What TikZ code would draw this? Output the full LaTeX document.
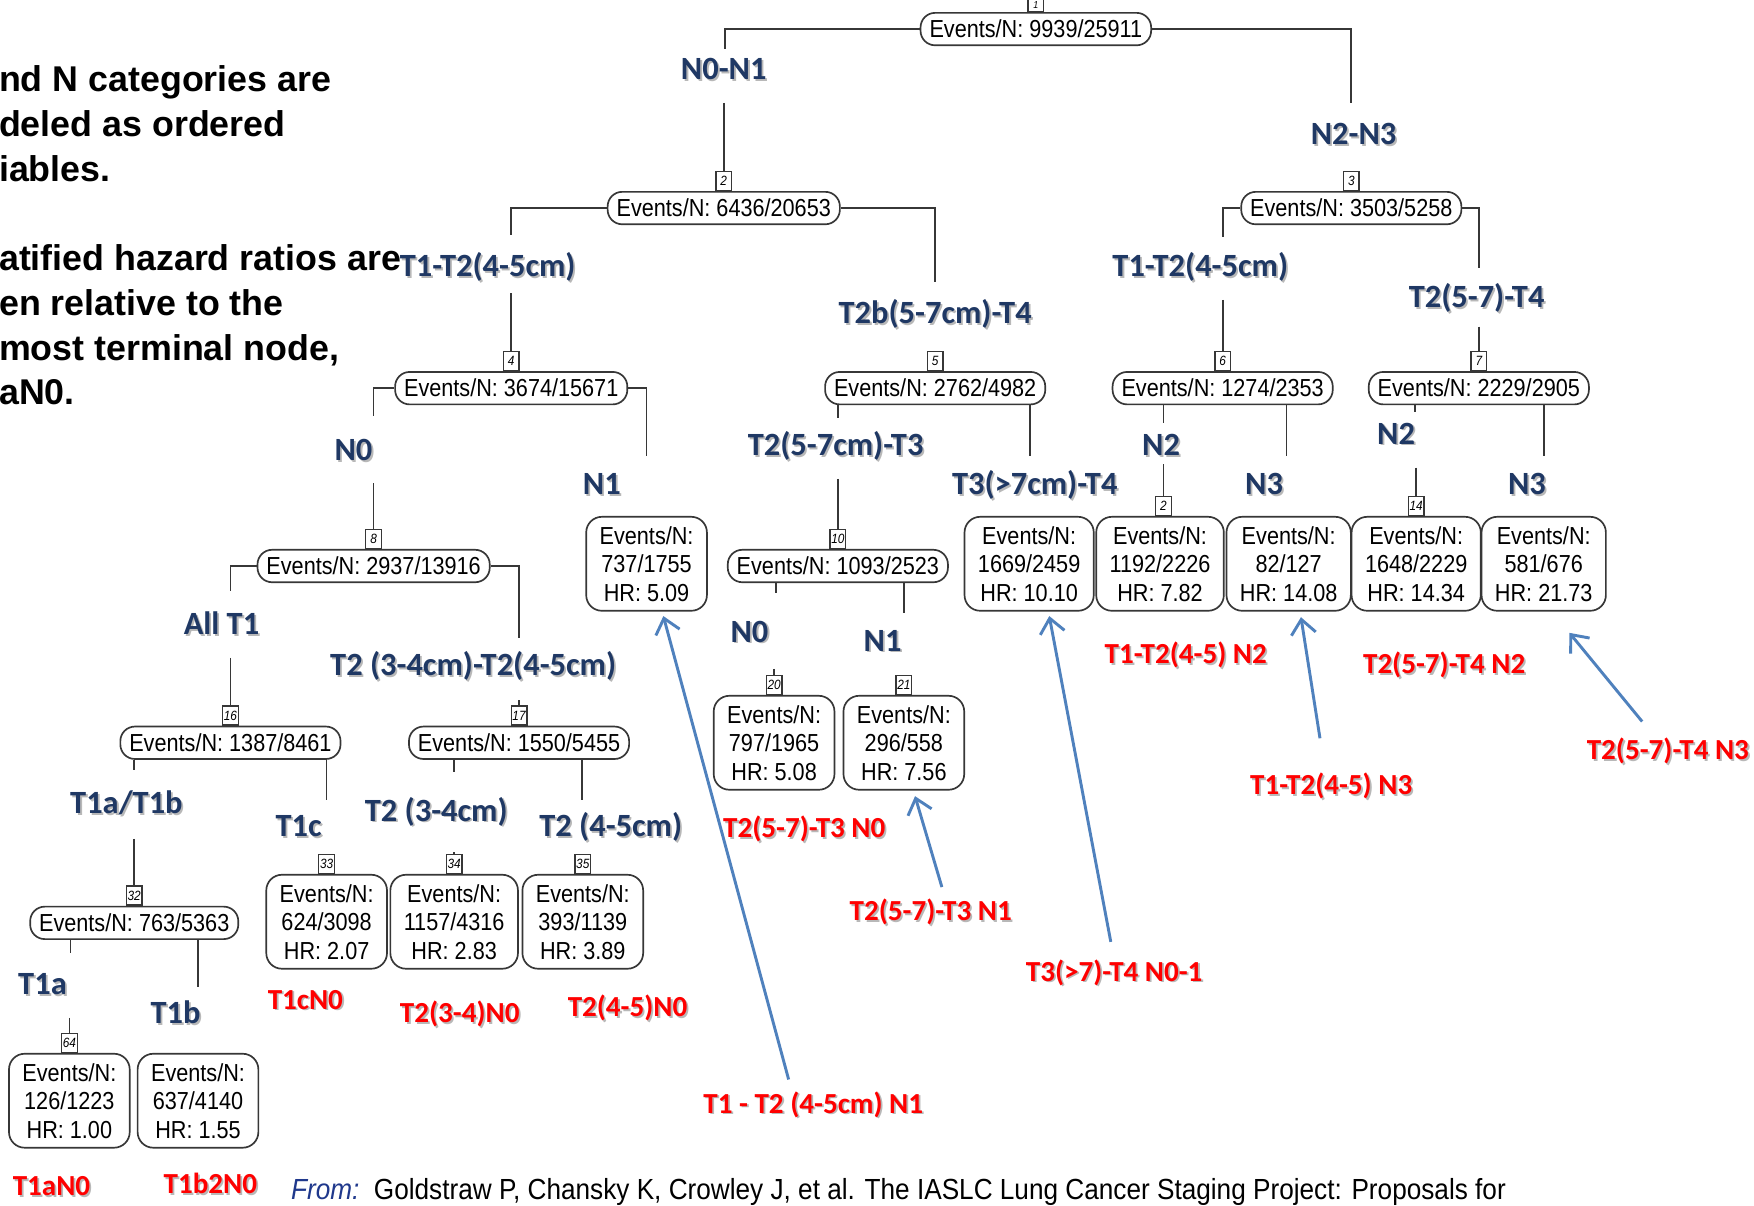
\documentclass[tikz,border=0pt]{standalone}
\usepackage{fontspec}
\setmainfont{Liberation Sans}
\newfontfamily\calfont{Carlito}
\newfontfamily\narrowfont[FakeStretch=0.88]{Liberation Sans}
\newfontfamily\citefont[FakeStretch=0.9]{Liberation Sans}
\usetikzlibrary{arrows.meta,calc}
\definecolor{navy}{RGB}{31,56,100}
\definecolor{citeblue}{RGB}{31,56,140}
\definecolor{linegray}{RGB}{55,55,55}
\definecolor{arrowblue}{RGB}{79,129,189}
\newcommand\shd[1]{\leavevmode\rlap{\kern1.6pt\raisebox{-1.6pt}{\textcolor{black!28}{#1}}}#1}
\tikzset{
  conn/.style={draw=linegray, line width=1.5pt},
  oval/.style={draw=linegray, line width=1.5pt, fill=white, rounded corners=13pt,
    minimum height=29pt, inner xsep=8pt, inner ysep=0pt,
    font=\narrowfont\fontsize{22}{26}\selectfont},
  term/.style={draw=linegray, line width=1.5pt, fill=white, rounded corners=14pt,
    minimum height=84pt, inner xsep=12pt, inner ysep=0pt, align=center,
    font=\narrowfont\fontsize{22}{25.5}\selectfont},
  numbox/.style={draw=linegray, line width=1.2pt, fill=white, minimum width=14pt,
    minimum height=17pt, inner sep=0pt, anchor=south,
    font=\narrowfont\itshape\fontsize{12}{12}\selectfont},
  blab/.style={text=navy, font=\calfont\bfseries\fontsize{29}{32}\selectfont,
    inner sep=1pt, text height=20pt, text depth=6pt},
  rlab/.style={text=red, font=\calfont\bfseries\fontsize{26}{30}\selectfont,
    inner sep=1pt, text height=18pt, text depth=6pt},
  lefttxt/.style={anchor=base west, inner sep=0pt, font=\bfseries\fontsize{32}{40}\selectfont},
  arr/.style={draw=arrowblue, line width=2.6pt, -{Straight Barb[length=13pt,width=22pt]}},
}
\begin{document}
\begin{tikzpicture}[x=1pt,y=-1pt]
\useasboundingbox (0,0) rectangle (1568,1078);
\fill[white] (0,0) rectangle (1568,1078);
\clip (0,0) rectangle (1568,1078);

% left explanatory text (cut at the left edge)
\node[lefttxt] (tx1) at (-1,82) {nd N categories are};
\node[lefttxt] (tx2) at (-1,122) {deled as ordered};
\node[lefttxt] (tx3) at (-1,162) {iables.};
\node[lefttxt] (tx4) at (-1,242) {atified hazard ratios are};
\node[lefttxt] (tx5) at (-1,282) {en relative to the};
\node[lefttxt] (tx6) at (-1,322) {most terminal node,};
\node[lefttxt] (tx7) at (-1,362) {aN0.};

% internal (oval) nodes
\node[oval] (o1) at (926,26) {Events/N: 9939/25911};
\node[oval] (o2) at (647,186) {Events/N: 6436/20653};
\node[oval] (o3) at (1208,186) {Events/N: 3503/5258};
\node[oval] (o4) at (457,347) {Events/N: 3674/15671};
\node[oval] (o5) at (836,347) {Events/N: 2762/4982};
\node[oval] (o6) at (1093,347) {Events/N: 1274/2353};
\node[oval] (o7) at (1322,347) {Events/N: 2229/2905};
\node[oval] (o8) at (334,506) {Events/N: 2937/13916};
\node[oval] (o10) at (749,506) {Events/N: 1093/2523};
\node[oval] (o16) at (206,664) {Events/N: 1387/8461};
\node[oval] (o17) at (464,664) {Events/N: 1550/5455};
\node[oval] (o32) at (120,825) {Events/N: 763/5363};

% terminal nodes
\node[term] (t9) at (578,504) {Events/N:\\737/1755\\HR: 5.09};
\node[term] (t11) at (920,504) {Events/N:\\1669/2459\\HR: 10.10};
\node[term] (t12) at (1037,504) {Events/N:\\1192/2226\\HR: 7.82};
\node[term] (t13) at (1152,504) {Events/N:\\82/127\\HR: 14.08};
\node[term] (t14) at (1266,504) {Events/N:\\1648/2229\\HR: 14.34};
\node[term] (t15) at (1380,504) {Events/N:\\581/676\\HR: 21.73};
\node[term] (t20) at (692,664) {Events/N:\\797/1965\\HR: 5.08};
\node[term] (t21) at (808,664) {Events/N:\\296/558\\HR: 7.56};
\node[term] (t33) at (292,824) {Events/N:\\624/3098\\HR: 2.07};
\node[term] (t34) at (406,824) {Events/N:\\1157/4316\\HR: 2.83};
\node[term] (t35) at (521,824) {Events/N:\\393/1139\\HR: 3.89};
\node[term] (t64) at (62,984) {Events/N:\\126/1223\\HR: 1.00};
\node[term] (t65) at (177,984) {Events/N:\\637/4140\\HR: 1.55};

% node number boxes
\node[numbox, minimum height=11pt, font=\narrowfont\itshape\fontsize{9}{9}\selectfont] (n1) at (o1.north) {1};
\node[numbox] (n2) at (o2.north) {2};
\node[numbox] (n3) at (o3.north) {3};
\node[numbox] (n4) at (o4.north) {4};
\node[numbox] (n5) at (o5.north) {5};
\node[numbox] (n6) at (o6.north) {6};
\node[numbox] (n7) at (o7.north) {7};
\node[numbox] (n8) at (o8.north) {8};
\node[numbox] (n10) at (o10.north) {10};
\node[numbox] (n12) at ($(t12.north)+(3,0)$) {2};
\node[numbox] (n14) at (t14.north) {14};
\node[numbox] (n16) at (o16.north) {16};
\node[numbox] (n17) at (o17.north) {17};
\node[numbox] (n20) at (t20.north) {20};
\node[numbox] (n21) at (t21.north) {21};
\node[numbox] (n32) at (o32.north) {32};
\node[numbox] (n33) at (t33.north) {33};
\node[numbox] (n34) at (t34.north) {34};
\node[numbox] (n35) at (t35.north) {35};
\node[numbox] (n64) at (t64.north) {64};

% split labels (blue)
\node[blab] (lN0N1) at (647,64) {\shd{N0-N1}};
\node[blab] (lN2N3) at (1210,122) {\shd{N2-N3}};
\node[blab] (lT12a) at (436,240) {\shd{T1-T2(4-5cm)}};
\node[blab] (lT2b) at (836,282) {\shd{T2b(5-7cm)-T4}};
\node[blab] (lT12b) at (1073,240) {\shd{T1-T2(4-5cm)}};
\node[blab] (lT257) at (1320,268) {\shd{T2(5-7)-T4}};
\node[blab] (lN0a) at (316,405) {\shd{N0}};
\node[blab] (lN1a) at (538,435) {\shd{N1}};
\node[blab] (lT257cm) at (747,400) {\shd{T2(5-7cm)-T3}};
\node[blab] (lT3) at (925,435) {\shd{T3(>7cm)-T4}};
\node[blab] (lN2a) at (1038,400) {\shd{N2}};
\node[blab] (lN3a) at (1130,435) {\shd{N3}};
\node[blab] (lN2b) at (1248,390) {\shd{N2}};
\node[blab] (lN3b) at (1365,435) {\shd{N3}};
\node[blab] (lAllT1) at (198,560) {\shd{All T1}};
\node[blab] (lT2T2) at (423,597) {\shd{T2 (3-4cm)-T2(4-5cm)}};
\node[blab] (lN0b) at (670,567) {\shd{N0}};
\node[blab] (lN1b) at (789,575) {\shd{N1}};
\node[blab] (lT1ab) at (113,720) {\shd{T1a/T1b}};
\node[blab] (lT1c) at (267,741) {\shd{T1c}};
\node[blab] (lT234) at (390,727) {\shd{T2 (3-4cm)}};
\node[blab] (lT245) at (546,741) {\shd{T2 (4-5cm)}};
\node[blab] (lT1a) at (38,882) {\shd{T1a}};
\node[blab] (lT1b) at (157,908) {\shd{T1b}};

% arm end points
\coordinate (a1l) at (648,44);  \coordinate (a1r) at (1208,92);
\coordinate (a2l) at (457,210); \coordinate (a2r) at (836,252);
\coordinate (a3l) at (1093,212); \coordinate (a3r) at (1322,240);
\coordinate (a4l) at (334,372); \coordinate (a4r) at (578,408);
\coordinate (a5l) at (749,374); \coordinate (a5r) at (921,408);
\coordinate (a6l) at (1040,378); \coordinate (a6r) at (1150,408);
\coordinate (a7l) at (1265,368); \coordinate (a7r) at (1380,408);
\coordinate (a8l) at (206,528); \coordinate (a8r) at (464,570);
\coordinate (a10l) at (694,530); \coordinate (a10r) at (808,548);
\coordinate (a16l) at (120,688); \coordinate (a16r) at (292,715);
\coordinate (a17l) at (406,690); \coordinate (a17r) at (520,715);
\coordinate (a32l) at (63,852); \coordinate (a32r) at (177,882);

% side arms
\draw[conn] (o1.west) -| (a1l);
\draw[conn] (o1.east) -| (a1r);
\draw[conn] (o2.west) -| (a2l);
\draw[conn] (o2.east) -| (a2r);
\draw[conn] (o3.west) -| (a3l);
\draw[conn] (o3.east) -| (a3r);
\draw[conn] (o4.west) -| (a4l);
\draw[conn] (o4.east) -| (a4r);
\draw[conn] (o8.west) -| (a8l);
\draw[conn] (o8.east) -| (a8r);
% bottom arms
\draw[conn] (o5.south -| a5l) -- (a5l);
\draw[conn] (o5.south -| a5r) -- (a5r);
\draw[conn] (o6.south -| a6l) -- (a6l);
\draw[conn] (o6.south -| a6r) -- (a6r);
\draw[conn] (o7.south -| a7l) -- (a7l);
\draw[conn] (o7.south -| a7r) -- (a7r);
\draw[conn] (o10.south -| a10l) -- (a10l);
\draw[conn] (o10.south -| a10r) -- (a10r);
\draw[conn] (o16.south -| a16l) -- (a16l);
\draw[conn] (o16.south -| a16r) -- (a16r);
\draw[conn] (o17.south -| a17l) -- (a17l);
\draw[conn] (o17.south -| a17r) -- (a17r);
\draw[conn] (o32.south -| a32l) -- (a32l);
\draw[conn] (o32.south -| a32r) -- (a32r);

% label-to-box stems
\coordinate (s2) at (647,92);   \draw[conn] (s2) -- (n2.north);
\coordinate (s4) at (457,262);  \draw[conn] (s4) -- (n4.north);
\coordinate (s6) at (1093,268); \draw[conn] (s6) -- (n6.north);
\coordinate (s7) at (1322,292); \draw[conn] (s7) -- (n7.north);
\coordinate (s8) at (334,432);  \draw[conn] (s8) -- (n8.north);
\coordinate (s10) at (749,428); \draw[conn] (s10) -- (n10.north);
\coordinate (s12) at (1040,415); \draw[conn] (s12) -- (n12.north);
\coordinate (s14) at (1266,418); \draw[conn] (s14) -- (n14.north);
\coordinate (s16) at (206,588); \draw[conn] (s16) -- (n16.north);
\coordinate (s17) at (464,626); \draw[conn] (s17) -- (n17.north);
\coordinate (s20) at (692,598); \draw[conn] (s20) -- (n20.north);
\coordinate (s32) at (120,750); \draw[conn] (s32) -- (n32.north);
\coordinate (s34) at (406,762); \draw[conn] (s34) -- (n34.north);
\coordinate (s64) at (62,910);  \draw[conn] (s64) -- (n64.north);

% red stage labels
\node[rlab] (r1) at (1060,587) {\shd{T1-T2(4-5) N2}};
\node[rlab] (r2) at (1291,596) {\shd{T2(5-7)-T4 N2}};
\node[rlab] (r3) at (1190,704) {\shd{T1-T2(4-5) N3}};
\node[rlab] (r4) at (1491,673) {\shd{T2(5-7)-T4 N3}};
\node[rlab] (r5) at (719,743) {\shd{T2(5-7)-T3 N0}};
\node[rlab] (r6) at (832,817) {\shd{T2(5-7)-T3 N1}};
\node[rlab] (r7) at (996,871) {\shd{T3(>7)-T4 N0-1}};
\node[rlab] (r8) at (727,989) {\shd{T1 - T2 (4-5cm) N1}};
\node[rlab] (r9) at (273,896) {\shd{T1cN0}};
\node[rlab] (r10) at (411,908) {\shd{T2(3-4)N0}};
\node[rlab] (r11) at (561,903) {\shd{T2(4-5)N0}};
\node[rlab] (r12) at (46,1063) {\shd{T1aN0}};
\node[rlab] (r13) at (188,1061) {\shd{T1b2N0}};

% blue arrows
\coordinate (b1) at (705,965);
\coordinate (b2) at (842,793);
\coordinate (b3) at (993,842);
\coordinate (b4) at (1180,660);
\coordinate (b5) at (1468,645);
\draw[arr] (b1) -- ($(t9.south)+(15,4)$);
\draw[arr] (b2) -- ($(t21.south)+(10,5)$);
\draw[arr] (b3) -- ($(t11.south)+(18,4)$);
\draw[arr] (b4) -- ($(t13.south)+(11,5)$);
\draw[arr] (b5) -- ($(t15.south)+(23,19)$);

% citation
\node[anchor=base west, inner sep=0pt, font=\citefont\fontsize{26}{26}\selectfont] (cite) at (260,1072)
  {\textcolor{citeblue}{\itshape From:}\ \ Goldstraw P, Chansky K, Crowley J, et al. The IASLC Lung Cancer Staging Project: Proposals for};
\end{tikzpicture}
\end{document}
